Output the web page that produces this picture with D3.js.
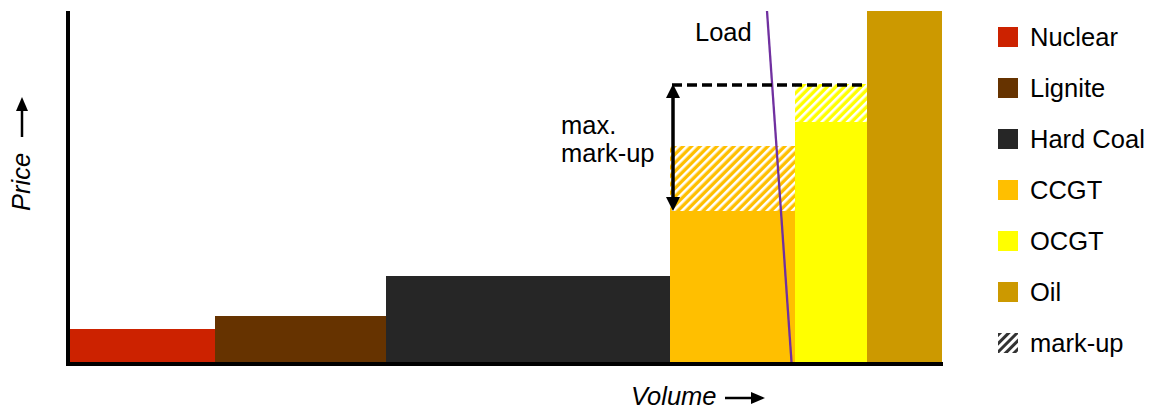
<!DOCTYPE html>
<html><head><meta charset="utf-8">
<script src="https://cdn.jsdelivr.net/npm/d3@7"></script>
<style>html,body{margin:0;padding:0;background:#fff;}svg{display:block;font-family:"Liberation Sans",Arial,sans-serif;}</style>
</head><body><svg id="c" width="1151" height="410"></svg>
<script>
// ---- data ----
const categories = ["Nuclear", "Lignite", "Hard Coal", "CCGT", "OCGT", "Oil"];
const capacity   = [145, 171, 284, 125, 72, 75];      // volume width per technology
const marginalCost = [33, 46, 86, 151, 240, 351];     // price level per technology
const markup     = [0, 0, 0, 65, 38, 0];              // mark-up on top of cost
const colors     = ["#CC2200", "#663300", "#262626", "#FFBF00", "#FFFF00", "#CC9900"];
const maxPrice   = 278;                               // max. mark-up level
const loadVolume = [697, 721.5];                      // load curve volume (top, bottom)
const loadPrice  = [351, 0];
const legendLabels = ["Nuclear", "Lignite", "Hard Coal", "CCGT", "OCGT", "Oil", "mark-up"];

const svg = d3.select("#c");
const x = d3.scaleLinear().domain([0, d3.sum(capacity)]).range([70, 942]);
const y = d3.scaleLinear().domain([0, 351]).range([362, 11]);

// patterns
const defs = svg.append("defs");
function hatch(id, bg, fg, w) {
  const p = defs.append("pattern").attr("id", id).attr("patternUnits", "userSpaceOnUse")
    .attr("width", 6).attr("height", 6).attr("patternTransform", "rotate(45)");
  p.append("rect").attr("width", 6).attr("height", 6).attr("fill", bg);
  p.append("rect").attr("x", 0).attr("width", w).attr("height", 6).attr("fill", fg);
}
hatch("hCCGT", "#FFBF00", "#fff", 2.6);
hatch("hOCGT", "#FFFF00", "#fff", 2.6);
hatch("hLeg", "#fff", "#333", 3);

const starts = capacity.map((c, i) => d3.sum(capacity.slice(0, i)));
const data = categories.map((c, i) => ({c, x0: starts[i], x1: starts[i] + capacity[i], p: marginalCost[i], m: markup[i], col: colors[i]}));

// bars
svg.append("g").selectAll("rect").data(data).join("rect")
  .attr("x", d => x(d.x0)).attr("width", d => x(d.x1) - x(d.x0))
  .attr("y", d => y(d.p)).attr("height", d => y(0) - y(d.p))
  .attr("fill", d => d.col);
// mark-up hatches
svg.append("g").selectAll("rect").data(data.filter(d => d.m > 0)).join("rect")
  .attr("x", d => x(d.x0)).attr("width", d => x(d.x1) - x(d.x0))
  .attr("y", d => y(d.p + d.m)).attr("height", d => y(d.p) - y(d.p + d.m))
  .attr("fill", d => d.c === "CCGT" ? "url(#hCCGT)" : "url(#hOCGT)");

// load line
svg.append("line").attr("x1", x(loadVolume[0])).attr("y1", y(loadPrice[0]))
  .attr("x2", x(loadVolume[1])).attr("y2", y(loadPrice[1]))
  .attr("stroke", "#7030A0").attr("stroke-width", 2.3);

// dashed max line
const ccgt = data[3], ocgt = data[4];
svg.append("line").attr("x1", x(ccgt.x0) + 2).attr("x2", x(ocgt.x1))
  .attr("y1", y(maxPrice) + 1).attr("y2", y(maxPrice) + 1)
  .attr("stroke", "#000").attr("stroke-width", 3.3).attr("stroke-dasharray", "10,5");

// double arrow
const ax = x(ccgt.x0) + 3;
const yTop = y(maxPrice), yBot = y(ccgt.p);
svg.append("line").attr("x1", ax).attr("x2", ax).attr("y1", yTop + 10).attr("y2", yBot - 10)
  .attr("stroke", "#000").attr("stroke-width", 3.5);
svg.append("path").attr("d", `M${ax},${yTop} L${ax-7},${yTop+14} L${ax+7},${yTop+14} Z`).attr("fill", "#000");
svg.append("path").attr("d", `M${ax},${yBot} L${ax-7},${yBot-14} L${ax+7},${yBot-14} Z`).attr("fill", "#000");

// axes
svg.append("line").attr("x1", 68).attr("x2", 68).attr("y1", 11).attr("y2", 366).attr("stroke", "#000").attr("stroke-width", 4);
svg.append("line").attr("x1", 66).attr("x2", 943).attr("y1", 364).attr("y2", 364).attr("stroke", "#000").attr("stroke-width", 4);

// texts
const fs = 25.5;
svg.append("text").attr("x", 695).attr("y", 41).attr("font-size", fs).text("Load");
svg.append("text").attr("x", 561).attr("y", 134).attr("font-size", fs).text("max.");
svg.append("text").attr("x", 561).attr("y", 162).attr("font-size", fs).text("mark-up");

// Volume label
svg.append("text").attr("x", 631).attr("y", 405).attr("font-size", fs).attr("font-style", "italic").text("Volume");
svg.append("line").attr("x1", 725).attr("x2", 752).attr("y1", 398).attr("y2", 398).attr("stroke", "#000").attr("stroke-width", 2.5);
svg.append("path").attr("d", "M765,398 L751,392 L751,404 Z").attr("fill", "#000");

// Price label
svg.append("text").attr("transform", "translate(30,211) rotate(-90)").attr("font-size", fs).attr("font-style", "italic").text("Price");
svg.append("line").attr("x1", 22).attr("x2", 22).attr("y1", 137).attr("y2", 110).attr("stroke", "#000").attr("stroke-width", 2.5);
svg.append("path").attr("d", "M22,97 L16,111 L28,111 Z").attr("fill", "#000");

// legend
const lg = svg.append("g").selectAll("g").data(legendLabels).join("g")
  .attr("transform", (d, i) => `translate(998,${27 + i * 51})`);
lg.append("rect").attr("width", 20).attr("height", 20)
  .attr("fill", (d, i) => i < colors.length ? colors[i] : "url(#hLeg)");
lg.append("text").attr("x", 32).attr("y", 18.5).attr("font-size", fs).text(d => d);
</script></body></html>
